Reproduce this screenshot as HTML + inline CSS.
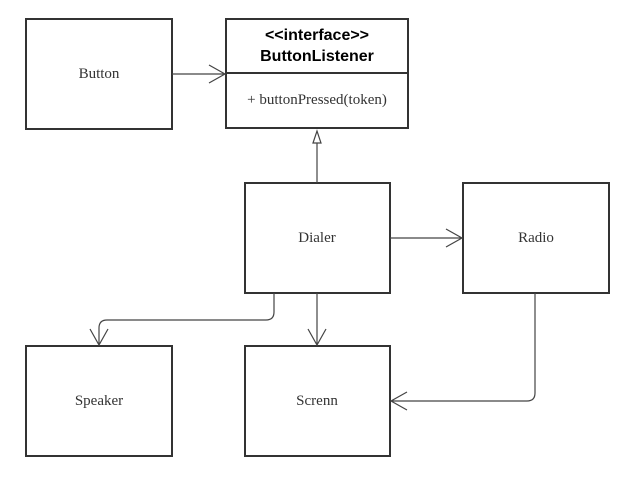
<!DOCTYPE html>
<html><head><style>
html,body{margin:0;padding:0;background:#fff;}
</style></head><body>
<svg width="636" height="482" xmlns="http://www.w3.org/2000/svg" style="display:block">
<g fill="#fff" stroke="#333" stroke-width="2">
<rect x="26" y="19" width="146" height="110"/>
<rect x="226" y="19" width="182" height="109"/>
<rect x="245" y="183" width="145" height="110"/>
<rect x="463" y="183" width="146" height="110"/>
<rect x="26" y="346" width="146" height="110"/>
<rect x="245" y="346" width="145" height="110"/>
</g>
<line x1="226" y1="73" x2="408" y2="73" stroke="#333" stroke-width="2"/>
<g fill="none" stroke="#444" stroke-width="1.2">
<path d="M172 74 H225 M209 65 L225 74 L209 83"/>
<path d="M317 183 V143 M313 143 L317 131 L321 143 Z"/>
<path d="M390 238 H462 M446 229 L462 238 L446 247"/>
<path d="M317 293 V345 M308 329 L317 345 L326 329"/>
<path d="M274 293 V312 Q274 320 266 320 H107 Q99 320 99 328 V345 M90 329 L99 345 L108 329"/>
<path d="M535 293 V393 Q535 401 527 401 H391 M407 392 L391 401 L407 410"/>
</g>
<g font-family="Liberation Serif, serif" font-size="15" fill="#333" text-anchor="middle">
<text x="99" y="78">Button</text>
<text x="317" y="104">+ buttonPressed(token)</text>
<text x="317" y="242">Dialer</text>
<text x="536" y="242">Radio</text>
<text x="99" y="405">Speaker</text>
<text x="317" y="405">Screnn</text>
</g>
<g font-family="Liberation Sans, sans-serif" font-size="16" font-weight="bold" fill="#000" text-anchor="middle">
<text x="317" y="40">&lt;&lt;interface&gt;&gt;</text>
<text x="317" y="61">ButtonListener</text>
</g>
</svg>
</body></html>
